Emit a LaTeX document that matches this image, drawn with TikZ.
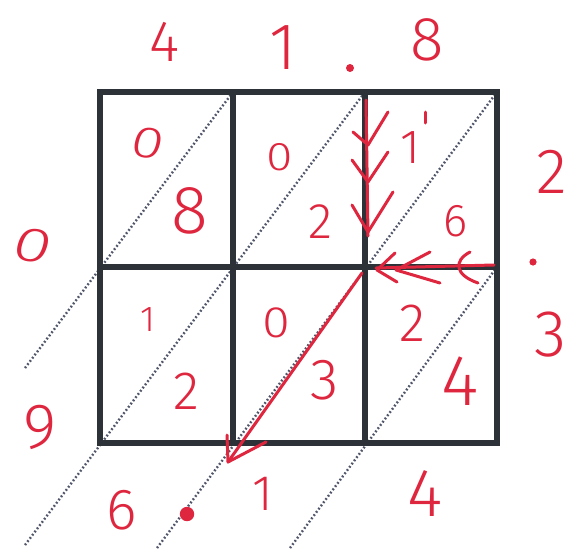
\documentclass[tikz,border=0pt]{standalone}
\usepackage{fontspec}
\setmainfont{Fira Sans}[UprightFont={* Light}]
\definecolor{hred}{RGB}{222,38,62}
\definecolor{gridc}{RGB}{45,50,56}
\definecolor{dotc}{RGB}{80,86,105}
\begin{document}
\begin{tikzpicture}[x=0.5pt,y=-0.5pt,
  gridline/.style={draw=gridc,line width=2.6pt,line cap=rect},
  dotline/.style={draw=dotc,line width=1.2pt,dash pattern=on 0.9pt off 1.1pt},
  redline/.style={draw=hred,line width=1.5pt,line cap=round,line join=round},
  dig/.style={text=hred,inner sep=0pt,font=\fontsize{#1}{#1}\selectfont}]
\useasboundingbox (0,0) rectangle (572,552);
% grid corners
\foreach \i/\x in {0/100,1/233,2/365,3/497}
  \foreach \j/\y in {0/92,1/267,2/443}
    \coordinate (c\i\j) at (\x,\y);
% dotted diagonal ends
\coordinate (e1) at (25,368);
\coordinate (e2) at (25,545);
\coordinate (e3) at (157,548);
\coordinate (e4) at (290,548);
\draw[dotline] (e1) -- (c10);
\draw[dotline] (e2) -- (c20);
\draw[dotline] (e3) -- (c30);
\draw[dotline] (e4) -- (c31);
% grid
\draw[gridline] (c00) rectangle (c32);
\draw[gridline] (c10) -- (c12);
\draw[gridline] (c20) -- (c22);
\draw[gridline] (c01) -- (c31);
% red vertical arrow with chevrons
\coordinate (v0) at (366,100);
\coordinate (v1) at (368,236);
\draw[redline] (v0) -- (v1);
\coordinate (vt1) at (368,145);
\coordinate (vt2) at (368,182);
\coordinate (vt3) at (368,232);
\draw[redline] ([shift={(-15,-13)}]vt1) -- (vt1) -- ([shift={(20,-33)}]vt1);
\draw[redline] ([shift={(-16,-22)}]vt2) -- (vt2) -- ([shift={(20,-30)}]vt2);
\draw[redline] ([shift={(-16,-27)}]vt3) -- (vt3) -- ([shift={(25,-40)}]vt3);
% red horizontal arrow with chevrons
\coordinate (h0) at (376,268);
\coordinate (h1) at (494,265);
\draw[redline] (h0) -- (h1);
\coordinate (ht1) at (377,270);
\coordinate (ht2) at (396,270);
\coordinate (ht3) at (455,267);
\draw[redline] ([shift={(18,-17)}]ht1) -- (ht1) -- ([shift={(20,12)}]ht1);
\draw[redline] ([shift={(34,-18)}]ht2) -- (ht2) -- ([shift={(44,13)}]ht2);
\draw[redline] ([shift={(15,-15)}]ht3) .. controls ([shift={(-2,-6)}]ht3) and ([shift={(0,8)}]ht3) .. ([shift={(23,16)}]ht3);
% red diagonal arrow
\coordinate (d0) at (362,273);
\coordinate (d1) at (228,462);
\draw[redline] (d0) -- (d1);
\draw[redline] ([shift={(-1,-27)}]d1) -- (d1) -- ([shift={(38,-20)}]d1);
% dots
\fill[hred] (350,68) circle[radius=2pt];
\fill[hred] (533,262) circle[radius=1.8pt];
\fill[hred] (187,514) circle[radius=3.6pt];
% outside digits
\node[dig=29] (tf) at (165,42) {4};
\node[dig=33] (to) at (283,48) {1};
\node[dig=31] (te) at (427,40) {8};
\node[dig=32] (rt) at (552,172) {2};
\node[dig=33] (rh) at (551,335) {3};
\node[dig=24,xscale=1.45,rotate=-12] (lz) at (33,246) {0};
\node[dig=32] (ln) at (40,427) {9};
\node[dig=29] (bs) at (122,510) {6};
\node[dig=25] (bo) at (263,494) {1};
\node[dig=34] (bf) at (425,494) {4};
% cell digits
\node[dig=22,xscale=1.35,rotate=-10] (a0) at (148,143) {0};
\node[dig=34] (a8) at (190,211) {8};
\node[dig=20,xscale=1.2] (b0) at (280,157) {0};
\node[dig=25] (b2) at (320,222) {2};
\node[dig=24] (c1) at (410,148) {1};
\draw[redline] (425,112) -- (425,123);
\node[dig=23] (c6) at (456,221) {6};
\node[dig=18] (d1n) at (148,320) {1};
\node[dig=27] (d2) at (186,391) {2};
\node[dig=22,xscale=1.15] (e0) at (276,323) {0};
\node[dig=29] (e3n) at (325,380) {3};
\node[dig=27] (f2) at (412,323) {2};
\node[dig=36] (f4) at (460,381) {4};
\end{tikzpicture}
\end{document}
